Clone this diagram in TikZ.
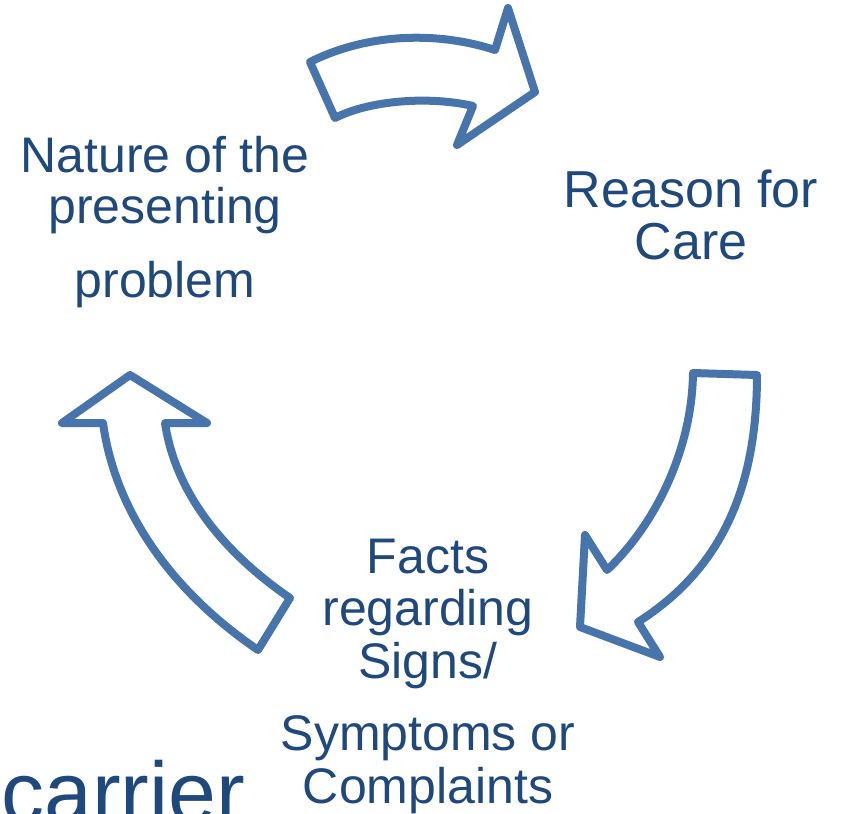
\documentclass[tikz,border=0pt]{standalone}
\usepackage{fontspec}
\setmainfont{Liberation Sans}
\definecolor{arw}{HTML}{4774AB}
\definecolor{txt}{HTML}{1F497D}
\tikzset{
	cyclearrow/.style={draw=arw, line width=4pt, line join=round, fill=white},
	cyclelabel/.style={text=txt, inner sep=0pt, anchor=base, font=\fontsize{25}{30}\selectfont}
}

\begin{document}
\begin{tikzpicture}[x=0.5pt,y=-0.5pt]
			\useasboundingbox (0,0) rectangle (842,814);

			% top arrow
			\draw[cyclearrow] (310,62) -- (335,118) .. controls (370,100) and (430,96) .. (473,106)
				-- (457,145) -- (535,92) -- (508,8) -- (495,50)
				.. controls (440,32) and (370,32) .. (310,62) -- cycle;

			% right arrow
			\draw[cyclearrow] (693,373) -- (757,375) .. controls (757,490) and (720,570) .. (638,622)
				-- (660,657) -- (580,627) -- (585,535) -- (607,570)
				.. controls (655,525) and (692,450) .. (693,373) -- cycle;

			% left arrow
			\draw[cyclearrow] (130,375) -- (62,423) -- (103,423) .. controls (115,510) and (170,590) .. (258,650)
				-- (290,598) .. controls (220,550) and (175,490) .. (165,423)
				-- (207,423) -- cycle;

			\node[cyclelabel] (nat1) at (165,172) {Nature of the};
			\node[cyclelabel] (nat2) at (165,223) {presenting};
			\node[cyclelabel] (nat3) at (165,297) {problem};

			\node[cyclelabel, font=\fontsize{26}{30}\selectfont] (rea1) at (691,207) {Reason for};
			\node[cyclelabel, font=\fontsize{26}{30}\selectfont] (rea2) at (691,259) {Care};

			\node[cyclelabel] (fac1) at (428,573) {Facts};
			\node[cyclelabel] (fac2) at (428,625) {regarding};
			\node[cyclelabel] (fac3) at (428,678) {Signs/};
			\node[cyclelabel] (fac4) at (428,750) {Symptoms or};
			\node[cyclelabel] (fac5) at (428,803) {Complaints};

			\node[cyclelabel, anchor=base west, font=\fontsize{43}{50}\selectfont] (car) at (1,822) {carrier};
		\end{tikzpicture}
\end{document}
